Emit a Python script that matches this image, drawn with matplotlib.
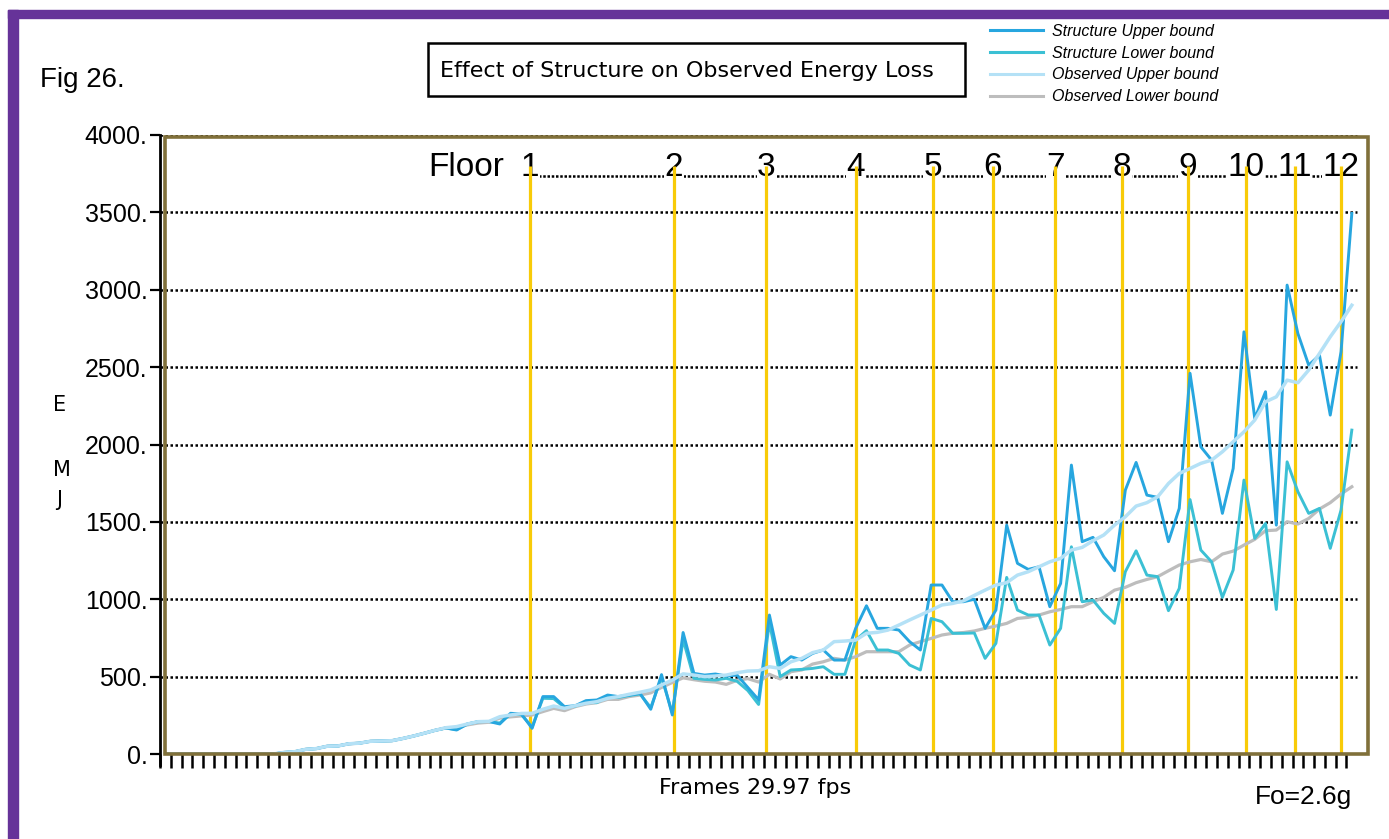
import matplotlib
matplotlib.use('Agg')
import matplotlib.pyplot as plt
from matplotlib import font_manager
from matplotlib.patches import Rectangle
from matplotlib.lines import Line2D

# data, one value per frame
su_vals = [0, 0, 0, 0, 0, 0, 0, 0, 0, 0, 0,
           10, 15, 30, 35, 50, 52, 66, 70, 82, 84,
           86, 100, 116, 134, 153, 168, 155, 194, 209, 210,
           194, 263, 259, 166, 371, 371, 306, 312, 345, 349,
           381, 371, 381, 392, 289, 513, 252, 785, 521, 510,
           517, 504, 510, 430, 350, 898, 575, 629, 607, 650,
           672, 607, 607, 812, 958, 812, 812, 801, 726, 672,
           1092, 1092, 984, 984, 1000, 812, 930, 1479, 1232, 1193,
           1210, 952, 1102, 1867, 1372, 1400, 1275, 1184, 1705, 1884,
           1673, 1658, 1372, 1587, 2460, 1985, 1899, 1555, 1845, 2728,
           2168, 2341, 1479, 3030, 2717, 2513, 2577, 2190, 2599, 3493]
sl_vals = [0, 0, 0, 0, 0, 0, 0, 0, 0, 0, 0,
           10, 15, 30, 35, 50, 52, 66, 70, 82, 84,
           86, 100, 116, 134, 153, 168, 158, 194, 209, 210,
           200, 258, 255, 175, 360, 358, 300, 310, 332, 332,
           371, 366, 378, 388, 300, 495, 265, 740, 489, 482,
           478, 489, 470, 410, 320, 850, 500, 543, 547, 553,
           564, 515, 515, 736, 797, 672, 672, 650, 575, 543,
           876, 855, 780, 780, 782, 618, 715, 1141, 930, 898,
           898, 704, 812, 1339, 984, 995, 909, 844, 1178, 1313,
           1156, 1146, 926, 1070, 1644, 1318, 1242, 1012, 1189, 1770,
           1393, 1490, 934, 1888, 1695, 1555, 1587, 1329, 1576, 2093]
ou_vals = [0, 0, 0, 0, 0, 0, 0, 0, 0, 0, 0,
           10, 15, 30, 35, 50, 52, 66, 70, 82, 84,
           86, 100, 116, 134, 153, 170, 177, 194, 209, 211,
           241, 252, 262, 263, 289, 310, 295, 312, 328, 338,
           360, 371, 386, 399, 414, 446, 478, 518, 510, 500,
           504, 510, 525, 536, 538, 564, 553, 596, 618, 655,
           672, 726, 730, 736, 780, 786, 801, 833, 866, 898,
           930, 963, 973, 990, 1025, 1059, 1092, 1107, 1156, 1178,
           1210, 1242, 1264, 1318, 1335, 1378, 1415, 1479, 1533, 1602,
           1624, 1662, 1748, 1813, 1845, 1878, 1899, 1953, 2018, 2082,
           2158, 2276, 2308, 2416, 2399, 2481, 2588, 2696, 2793, 2900]
ol_vals = [0, 0, 0, 0, 0, 0, 0, 0, 0, 0, 0,
           10, 15, 30, 35, 50, 52, 66, 70, 82, 84,
           86, 100, 116, 134, 153, 168, 172, 188, 200, 205,
           232, 240, 246, 252, 274, 295, 280, 306, 323, 332,
           353, 353, 371, 381, 395, 430, 462, 492, 480, 470,
           465, 450, 476, 487, 465, 515, 485, 532, 543, 581,
           596, 618, 607, 629, 661, 661, 661, 661, 704, 726,
           747, 769, 780, 785, 795, 812, 827, 844, 876, 883,
           898, 919, 934, 952, 952, 984, 1012, 1059, 1077, 1107,
           1128, 1146, 1184, 1221, 1242, 1257, 1242, 1292, 1311, 1350,
           1387, 1443, 1447, 1501, 1486, 1522, 1583, 1624, 1680, 1727]

series_names = ['Structure Upper bound', 'Structure Lower bound',
                'Observed Upper bound', 'Observed Lower bound']

floor_labels = ['1', '2', '3', '4', '5', '6', '7', '8', '9', '10', '11', '12']
floor_pos = [34.3, 47.65, 56.2, 64.5, 71.65, 77.2, 83.0, 89.2, 95.3, 100.7, 105.2, 109.5]

y_ticks = [0, 500, 1000, 1500, 2000, 2500, 3000, 3500, 4000]
y_tick_labels = ['0.', '500.', '1000.', '1500.', '2000.', '2500.', '3000.', '3500.', '4000.']

names = {f.name for f in font_manager.fontManager.ttflist}
NARROW = 'Liberation Sans Narrow' if 'Liberation Sans Narrow' in names else 'Liberation Sans'

W, H = 1389, 839
fig = plt.figure(figsize=(W / 100, H / 100), dpi=100)
ax = fig.add_axes([160 / W, 1 - 754 / H, 1208 / W, 619 / H])

x = [i + 0.5 for i in range(len(su_vals))]

# dotted grid
ax.hlines(y_ticks[1:], 0, 111, colors='black', linewidth=1.8, linestyles=(0, (1, 1)), zorder=1)

# floor markers
ax.plot([floor_pos[0], floor_pos[-1]], [3735, 3735], color='black', linewidth=1.8,
        linestyle=(0, (1, 0.7)), zorder=2)
ax.text(31.9, 3735, 'Floor', fontsize=24, family=NARROW, ha='right', va='baseline', zorder=3)
for lab, fx in zip(floor_labels, floor_pos):
    ax.text(fx, 3735, lab, fontsize=24, family=NARROW, ha='center', va='baseline', zorder=3,
            bbox=dict(facecolor='white', edgecolor='none', pad=0.3))
ax.vlines(floor_pos, 0, 3800, colors='#F8CB08', linewidth=2.3, zorder=4)

# lines
colors = ['#27A6DF', '#3BC0D4', '#B4E1F6', '#BDBDBD']
ax.plot(x, ol_vals, color=colors[3], linewidth=2.3, zorder=5)
ax.plot(x, sl_vals, color=colors[1], linewidth=2.1, zorder=6)
ax.plot(x, su_vals, color=colors[0], linewidth=2.1, zorder=7)
ax.plot(x, ou_vals, color=colors[2], linewidth=2.5, zorder=8)

# olive plot frame
ax.add_patch(Rectangle((0.46, 0), 111.5, 3985, fill=False, edgecolor='#80703A',
                       linewidth=2.6, zorder=9, clip_on=False))

ax.set_xlim(0, 112)
ax.set_ylim(0, 4000)
ax.set_xticks(range(0, 111))
ax.set_xticklabels([])
ax.set_yticks(y_ticks)
ax.set_yticklabels(y_tick_labels, family=NARROW, fontsize=18)
ax.tick_params(axis='x', direction='out', length=10, width=1.8, color='black')
ax.tick_params(axis='y', direction='out', length=7, width=1.6, color='black', pad=2)
for s in ['top', 'right', 'bottom']:
    ax.spines[s].set_visible(False)
ax.spines['left'].set_color('black')
ax.spines['left'].set_linewidth(2.0)
ax.spines['left'].set_bounds(-70, 4000)

# texts
fig.text(40 / W, 1 - 80 / H, 'Fig 26.', family=NARROW, fontsize=20, ha='left', va='center')
fig.patches.append(Rectangle((428 / W, 1 - 96 / H), 537 / W, 53 / H, fill=False,
                             edgecolor='black', linewidth=1.8, transform=fig.transFigure))
fig.text(687 / W, 1 - 71 / H, 'Effect of Structure on Observed Energy Loss',
         fontsize=16, ha='center', va='center')
fig.text(755 / W, 1 - 788 / H, 'Frames 29.97 fps', fontsize=16, ha='center', va='center')
fig.text(1255 / W, 1 - 797 / H, 'Fo=2.6g', family=NARROW, fontsize=19, ha='left', va='center')
fig.text(60 / W, 1 - 405 / H, 'E', fontsize=15, ha='center', va='center')
fig.text(62 / W, 1 - 470 / H, 'M', fontsize=15, ha='center', va='center')
fig.text(59 / W, 1 - 500 / H, 'J', fontsize=15, ha='center', va='center')

handles = [Line2D([], [], color=c, linewidth=2.2) for c in colors]
fig.legend(handles, series_names, loc='upper left', bbox_to_anchor=(990 / W, 1 - 24 / H),
           frameon=False, prop=dict(family=NARROW, style='italic', size=11.5),
           handlelength=3.3, handletextpad=0.6, labelspacing=0.42, borderpad=0, borderaxespad=0)

# purple border
fig.patches.append(Rectangle((8 / W, 0), 10 / W, 1 - 10 / H, color='#663399',
                             transform=fig.transFigure, zorder=0))
fig.patches.append(Rectangle((8 / W, 1 - 18 / H), 1 - 8 / W, 8 / H, color='#663399',
                             transform=fig.transFigure, zorder=0))

fig.savefig('out.png', dpi=100)
